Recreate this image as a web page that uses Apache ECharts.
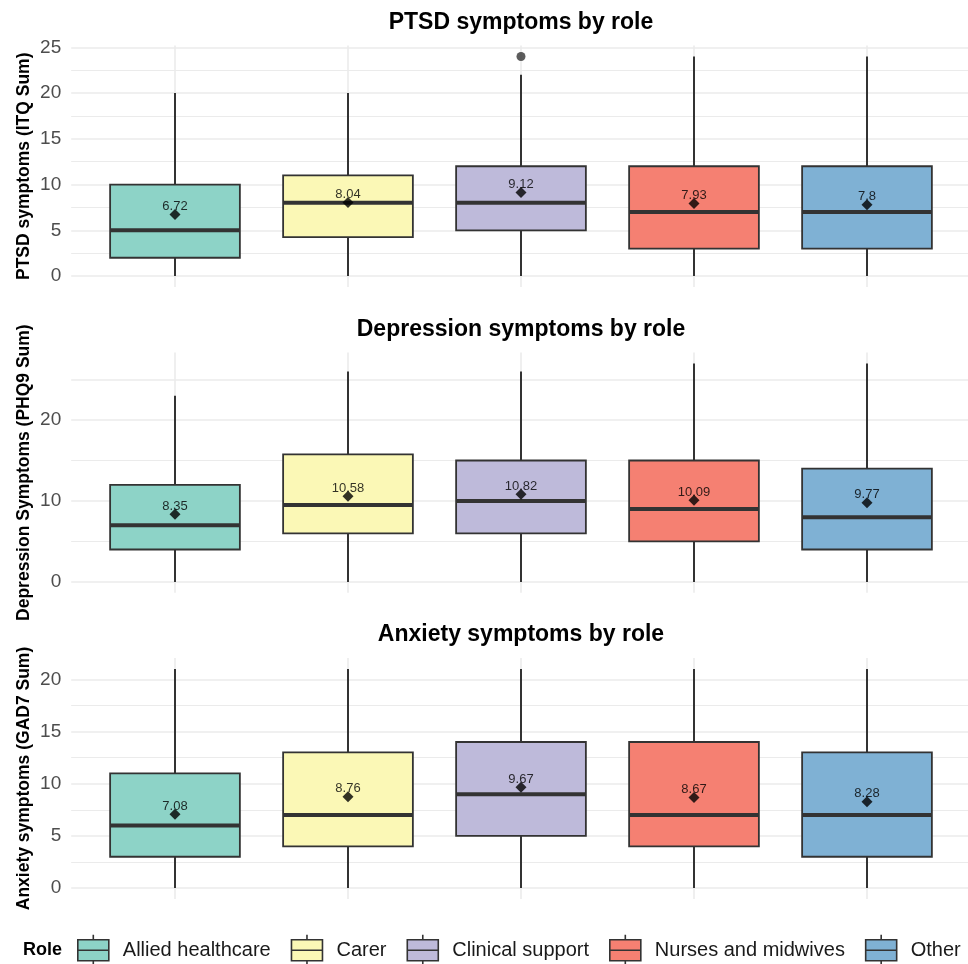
<!DOCTYPE html>
<html><head><meta charset="utf-8">
<script src="https://cdn.jsdelivr.net/npm/echarts@6/dist/echarts.min.js"></script>
<style>html,body{margin:0;padding:0;background:#fff}#c{width:968px;height:964px}</style>
</head><body><div id="c"></div>
<script>
// ---------- DATA ----------
const roles = ['Allied healthcare', 'Carer', 'Clinical support', 'Nurses and midwives', 'Other'];
const roleColors = ['#8dd3c7', '#fbf8b6', '#bebada', '#f58072', '#7fb1d4'];

// box stats per role: [lower whisker, Q1, median, Q3, upper whisker]
const ptsdBox = [[0, 2, 5, 10, 20], [0, 4.25, 8, 11, 20], [0, 5, 8, 12, 22], [0, 3, 7, 12, 24], [0, 3, 7, 12, 24]];
const ptsdMean = [6.72, 8.04, 9.12, 7.93, 7.8];
const ptsdOutliers = [[3, 24]]; // [role position (1-based), value]

const depBox = [[0, 4, 7, 12, 23], [0, 6, 9.5, 15.75, 26], [0, 6, 10, 15, 26], [0, 5, 9, 15, 27], [0, 4, 8, 14, 27]];
const depMean = [8.35, 10.58, 10.82, 10.09, 9.77];
const depOutliers = [];

const anxBox = [[0, 3, 6, 11, 21], [0, 4, 7, 13, 21], [0, 5, 9, 14, 21], [0, 4, 7, 14, 21], [0, 3, 7, 13, 21]];
const anxMean = [7.08, 8.76, 9.67, 8.67, 8.28];
const anxOutliers = [];

const panelTitles = ['PTSD symptoms by role', 'Depression symptoms by role', 'Anxiety symptoms by role'];
const yTitles = ['PTSD symptoms (ITQ Sum)', 'Depression Symptoms (PHQ9 Sum)', 'Anxiety symptoms (GAD7 Sum)'];
const yTickSteps = [5, 10, 5];
const legendTitle = 'Role';

// ---------- LAYOUT ----------
const FONT = 'Liberation Sans, Arial, Helvetica, sans-serif';
const boxesAll = [ptsdBox, depBox, anxBox];
const meansAll = [ptsdMean, depMean, anxMean];
const outAll = [ptsdOutliers, depOutliers, anxOutliers];
const panelPix = [[45.5, 287], [352.5, 592.8], [658, 899]];
const plotL = 71.2, plotR = 970.8;
const unit = (plotR - plotL) / 5.2;
const gvLeft = plotL - 0.4 * unit, gvWidth = 6 * unit;

const grids = [], xAxes = [], yAxes = [], series = [], graphics = [];
const vColors = ['rgba(0,0,0,0)', '#ebebeb', '#ebebeb', '#ebebeb', '#ebebeb', '#ebebeb', 'rgba(0,0,0,0)'];

function boxRender(color) {
  return function (params, api) {
    const x = api.value(0);
    const lo = api.coord([x, api.value(1)]);
    const q1 = api.coord([x, api.value(2)]);
    const md = api.coord([x, api.value(3)]);
    const q3 = api.coord([x, api.value(4)]);
    const hi = api.coord([x, api.value(5)]);
    const bw = api.size([1, 0])[0] * 0.75;
    const cx = lo[0];
    const ls = { stroke: '#333333', lineWidth: 2 };
    return {
      type: 'group', children: [
        { type: 'line', shape: { x1: cx, y1: lo[1], x2: cx, y2: q1[1] }, style: ls },
        { type: 'line', shape: { x1: cx, y1: q3[1], x2: cx, y2: hi[1] }, style: ls },
        { type: 'rect', shape: { x: cx - bw / 2, y: q3[1], width: bw, height: q1[1] - q3[1] },
          style: { fill: color, stroke: '#333333', lineWidth: 1.8 } },
        { type: 'line', shape: { x1: cx - bw / 2, y1: md[1], x2: cx + bw / 2, y2: md[1] },
          style: { stroke: '#333333', lineWidth: 4 } }
      ]
    };
  };
}

for (let p = 0; p < 3; p++) {
  const boxes = boxesAll[p];
  let dmin = Infinity, dmax = -Infinity;
  boxes.forEach(b => { dmin = Math.min(dmin, b[0]); dmax = Math.max(dmax, b[4]); });
  outAll[p].forEach(o => { dmin = Math.min(dmin, o[1]); dmax = Math.max(dmax, o[1]); });
  const rng = dmax - dmin;
  const ymin = dmin - 0.05 * rng, ymax = dmax + 0.05 * rng;
  const step = yTickSteps[p];
  const tickMax = Math.floor(ymax / (step / 2)) * (step / 2);
  const [pt, pb] = panelPix[p];
  const H = pb - pt;
  const bTop = pt + (ymax - tickMax) / (ymax - ymin) * H;
  const bBot = pb - (0 - ymin) / (ymax - ymin) * H;

  // grid V: data + vertical grid lines
  const gv = grids.length;
  grids.push({ left: gvLeft, width: gvWidth, top: pt, height: H, containLabel: false, outerBoundsMode: 'none' });
  xAxes.push({ gridIndex: gv, type: 'value', min: 0, max: 6, interval: 1,
    axisLine: { show: false }, axisTick: { show: false }, axisLabel: { show: false },
    splitLine: { show: true, lineStyle: { color: vColors, width: 1.6 } } });
  yAxes.push({ gridIndex: gv, type: 'value', min: ymin, max: ymax,
    axisLine: { show: false }, axisTick: { show: false }, axisLabel: { show: false },
    splitLine: { show: false } });

  // grid B: horizontal grid lines + tick labels
  const gb = grids.length;
  grids.push({ left: plotL, width: plotR - plotL, top: bTop, height: bBot - bTop, containLabel: false, outerBoundsMode: 'none' });
  xAxes.push({ gridIndex: gb, type: 'value', min: 0, max: 1, show: false });
  yAxes.push({ gridIndex: gb, type: 'value', min: 0, max: tickMax, interval: step,
    axisLine: { show: false }, axisTick: { show: false },
    axisLabel: { fontSize: 19, color: '#4d4d4d', margin: 10, fontFamily: FONT,
      formatter: v => (v % step === 0 ? String(v) : '') },
    splitLine: { show: true, lineStyle: { color: '#ebebeb', width: 1.6 } },
    minorTick: { show: false, splitNumber: 2 },
    minorSplitLine: { show: true, lineStyle: { color: '#ebebeb', width: 1 } } });

  roles.forEach((r, i) => {
    series.push({
      type: 'custom', name: r, xAxisIndex: gv, yAxisIndex: gv,
      itemStyle: { color: roleColors[i] },
      renderItem: boxRender(roleColors[i]),
      encode: { x: 0, y: [1, 2, 3, 4, 5] },
      data: [[i + 1].concat(boxes[i])],
      z: 2
    });
  });

  if (outAll[p].length) {
    series.push({
      type: 'scatter', name: 'Outlier', xAxisIndex: gv, yAxisIndex: gv,
      symbol: 'circle', symbolSize: 9, itemStyle: { color: '#333333' },
      data: outAll[p].slice(), z: 3
    });
  }

  series.push({
    type: 'scatter', name: 'Mean', xAxisIndex: gv, yAxisIndex: gv,
    symbol: 'diamond', symbolSize: 11, itemStyle: { color: '#000000' },
    label: { show: true, position: 'inside', offset: [0, -8], fontSize: 13, color: '#000000',
      fontFamily: FONT, formatter: prm => String(prm.value[1]) },
    data: meansAll[p].map((m, i) => [i + 1, m]), z: 4
  });

  graphics.push({ type: 'text', silent: true,
    style: { text: panelTitles[p], x: (plotL + plotR) / 2, y: pt - 23, align: 'center', verticalAlign: 'middle',
      font: 'bold 23px ' + FONT, fill: '#000000' } });
  graphics.push({ type: 'text', silent: true, x: 24, y: (pt + pb) / 2, rotation: Math.PI / 2,
    style: { text: yTitles[p], x: 0, y: 0, align: 'center', verticalAlign: 'middle',
      font: 'bold 17.5px ' + FONT, fill: '#000000' } });
}

graphics.push({ type: 'text', silent: true,
  style: { text: legendTitle, x: 23, y: 950, align: 'left', verticalAlign: 'middle',
    font: 'bold 18px ' + FONT, fill: '#000000' } });

const option = {
  animation: false,
  backgroundColor: '#ffffff',
  grid: grids,
  xAxis: xAxes,
  yAxis: yAxes,
  legend: {
    data: roles, left: 77, top: 934, width: 891, padding: 0, orient: 'horizontal', selectedMode: false,
    itemWidth: 31, itemHeight: 31, itemGap: 20,
    icon: 'path://M0,5L31,5L31,26L0,26Z M0,15.5L31,15.5 M15.5,0L15.5,5 M15.5,26L15.5,31',
    itemStyle: { borderColor: '#333333', borderWidth: 1.6 },
    textStyle: { fontSize: 20, color: '#1a1a1a', fontFamily: FONT, padding: [2, 0, 0, 9] }
  },
  graphic: graphics,
  series: series
};

const chart = echarts.init(document.getElementById('c'), null, { renderer: 'canvas' });
chart.setOption(option);
</script>
</body></html>
